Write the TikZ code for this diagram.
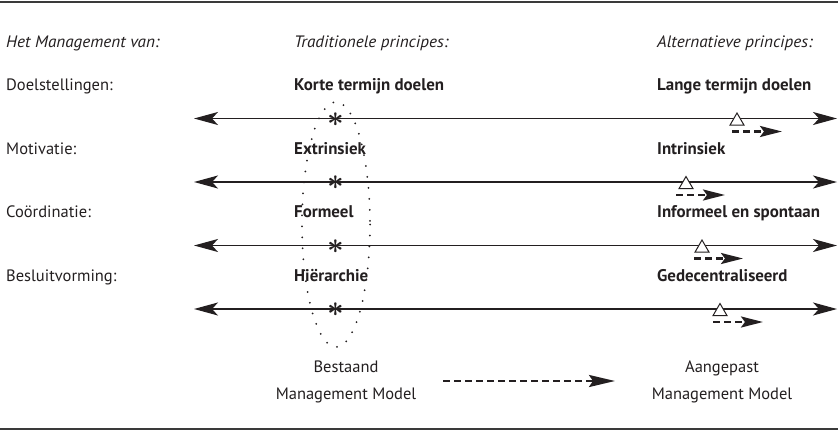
\documentclass[tikz,border=0pt]{standalone}
\usepackage{fontspec}
\setmainfont{PT Sans}
\newfontfamily\headfont{PT Sans}[FakeStretch=1.04]
\usetikzlibrary{arrows.meta,positioning,shapes.geometric}
\definecolor{ink}{HTML}{231F20}
\definecolor{rule}{HTML}{3A3A3A}

\begin{document}
\begin{tikzpicture}[x=1pt,y=-1pt,>=Stealth,
  txt/.style={anchor=base west,inner sep=0pt,text=ink,font=\fontsize{16.5}{18}\selectfont},
  hd/.style={txt,font=\fontsize{16.5}{18}\selectfont\headfont\itshape},
  val/.style={txt,font=\fontsize{16.9}{18}\selectfont\bfseries},
  model/.style={align=center,inner sep=0pt,text=ink,font=\fontsize{16.5}{26.5}\selectfont},
  scalearrow/.style={draw=ink,line width=1.2pt,{Stealth[length=24pt,width=13pt,inset=6pt]}-{Stealth[length=24pt,width=13pt,inset=6pt]}},
  shiftarrow/.style={draw=ink,line width=2.4pt,dash pattern=on 7pt off 4pt,-{Stealth[length=22pt,width=11pt,inset=4pt]}},
  startmark/.style={inner sep=0pt,text=ink,font=\fontsize{10}{10}\selectfont\boldmath},
  goalmark/.style={regular polygon,regular polygon sides=3,minimum size=16pt,inner sep=0pt,draw=ink,fill=white,line width=1pt}]
\useasboundingbox (0,0) rectangle (838,431);
\draw[rule,line width=1.5pt] (0,2) -- (838,2);
\draw[rule,line width=1.5pt] (0,429) -- (838,429);

% kolomkoppen
\node[hd] (hdarea) at (6,47) {Het Management van:};
\node[hd] (hdold) at (294,47) {Traditionele principes:};
\node[hd] (hdnew) at (657,47) {Alternatieve principes:};

% rijen
\node[txt] (area1) at (6,90.5) {Doelstellingen:};
\node[val] (old1) at (294,90.5) {Korte termijn doelen};
\node[val] (new1) at (657,90.5) {Lange termijn doelen};
\node[txt] (area2) at (6,154) {Motivatie:};
\node[val] (old2) at (294,154) {Extrinsiek};
\node[val] (new2) at (657,154) {Intrinsiek};
\node[txt] (area3) at (6,217.5) {Coördinatie:};
\node[val] (old3) at (294,217.5) {Formeel};
\node[val] (new3) at (657,217.5) {Informeel en spontaan};
\node[txt] (area4) at (6,281) {Besluitvorming:};
\node[val] (old4) at (294,281) {Hiërarchie};
\node[val] (new4) at (657,281) {Gedecentraliseerd};

% schalen
\coordinate (l1) at (194,118.5);
\coordinate (r1) at (837,118.5);
\coordinate (l2) at (194,182);
\coordinate (r2) at (837,182);
\coordinate (l3) at (194,245.5);
\coordinate (r3) at (837,245.5);
\coordinate (l4) at (194,309);
\coordinate (r4) at (837,309);
\draw[scalearrow] (l1) -- (r1);
\draw[scalearrow] (l2) -- (r2);
\draw[scalearrow] (l3) -- (r3);
\draw[scalearrow] (l4) -- (r4);

% huidige stand
\node[startmark] (now1) at (336,119.5) {\scalebox{2.9}{$\ast$}};
\node[startmark] (now2) at (336,183) {\scalebox{2.9}{$\ast$}};
\node[startmark] (now3) at (336,246.5) {\scalebox{2.9}{$\ast$}};
\node[startmark] (now4) at (336,310) {\scalebox{2.9}{$\ast$}};
\draw[ink,line width=2pt,line cap=round,dash pattern=on 0pt off 11pt] (336,224.5) ellipse [x radius=34,y radius=122.5];

% gewenste stand
\node[goalmark] (goal1) at (737,121) {};
\node[goalmark] (goal2) at (686,184.5) {};
\node[goalmark] (goal3) at (702,248) {};
\node[goalmark] (goal4) at (720,311.5) {};
\draw[shiftarrow] ([xshift=-5pt,yshift=-6pt]goal1.south) -- ++(50,0);
\draw[shiftarrow] ([xshift=-10pt,yshift=-6pt]goal2.south) -- ++(49,0);
\draw[shiftarrow] ([xshift=-8pt,yshift=-6pt]goal3.south) -- ++(49,0);
\draw[shiftarrow] ([xshift=-7pt,yshift=-6pt]goal4.south) -- ++(50,0);

% modellen
\node[model] (oldmodel) at (346,382) {Bestaand\\Management Model};
\node[model] (newmodel) at (722,382) {Aangepast\\Management Model};
\coordinate (shiftfrom) at (443,381);
\coordinate (shiftto) at (615,381);
\draw[shiftarrow,-{Stealth[length=26pt,width=12pt,inset=4pt]}] (shiftfrom) -- (shiftto);
\end{tikzpicture}
\end{document}
